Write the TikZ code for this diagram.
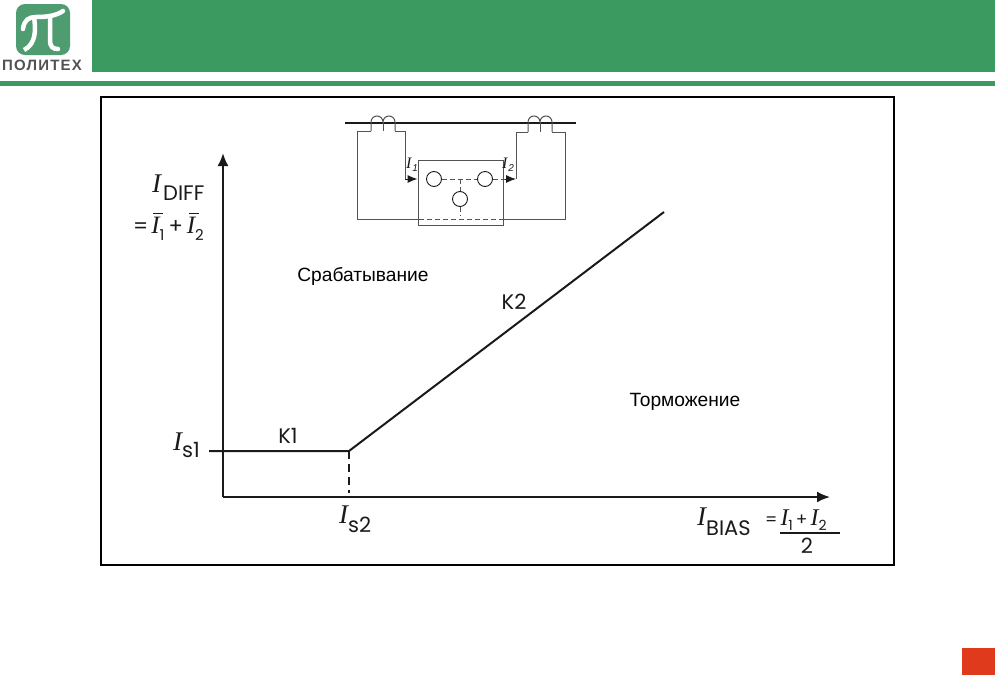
\documentclass[tikz,border=0pt]{standalone}
\usepackage{fontspec}
\setmainfont{Liberation Sans}
\newfontfamily\axisfont{Poppins}
\newfontfamily\serifit{Liberation Serif}
\newfontfamily\logofont[LetterSpace=8]{Liberation Sans}
\usetikzlibrary{arrows.meta}
\definecolor{headgreen}{HTML}{3A9A60}
\definecolor{logogreen}{HTML}{4E9C70}
\definecolor{cornerred}{HTML}{DF3A1B}
\definecolor{inkgrey}{HTML}{1A1A1A}
\newcommand{\symI}[1]{{\fontsize{#1}{#1}\selectfont\serifit\itshape I}}
\newcommand{\symIbar}{\rlap{\hspace{2pt}\rule[19pt]{10pt}{1.5pt}}\symI{25}}
\tikzset{
  axisline/.style={draw=inkgrey, line width=2pt},
  axisarrow/.style={axisline, -{Latex[length=13pt,width=11pt]}},
  curveline/.style={draw=inkgrey, line width=2pt},
  wireline/.style={draw=inkgrey!75, line width=1pt},
  wirearrow/.style={draw=inkgrey, line width=1pt, -{Latex[length=10pt,width=8pt]}},
  relaycircle/.style={circle, draw=inkgrey, line width=0.9pt, fill=white, minimum size=15pt, inner sep=0pt},
  axislabel/.style={font=\axisfont\fontsize{21}{24}\selectfont, text=inkgrey, inner sep=0pt},
  numlabel/.style={font=\axisfont\fontsize{17}{20}\selectfont, text=inkgrey, inner sep=0pt},
  zonelabel/.style={font=\fontsize{19.2}{22}\selectfont, text=black, inner sep=0pt},
  smalllabel/.style={font=\fontsize{16}{16}\selectfont\serifit\itshape, text=inkgrey, inner sep=0pt}
}
\begin{document}
\begin{tikzpicture}[x=1pt, y=-1pt]
  \useasboundingbox (0,0) rectangle (995,675);
  % header
  \fill[headgreen] (92,0) rectangle (995,72);
  \fill[headgreen] (0,81) rectangle (995,86);
  \fill[cornerred] (962,648) rectangle (995,675);
  % logo
  \fill[logogreen, rounded corners=9pt] (16,4) rectangle (70,55);
  \draw[white, line width=4.5pt, line cap=round] (23,29) .. controls (24,20) and (29,17) .. (36,17) .. controls (46,17) and (56,16) .. (63,11);
  \draw[white, line width=4.5pt] (34,17) .. controls (36,30) and (36,44) .. (24,50);
  \draw[white, line width=4.5pt, line cap=round] (50,16) -- (50,40) .. controls (50,47) and (53,49) .. (58,49);
  \node[font=\logofont\bfseries\fontsize{15}{16}\selectfont, text=black!68, inner sep=0pt] (logotext) at (42,65) {ПОЛИТЕХ};
  % frame
  \draw[black, line width=2pt] (101,97) rectangle (894,565);
  % axes
  \coordinate (origin) at (223,497);
  \coordinate (ytop) at (223,153);
  \coordinate (xend) at (830,497);
  \draw[axisarrow] (origin) -- (ytop);
  \draw[axisarrow] (origin) -- (xend);
  % characteristic
  \coordinate (start) at (209,451);
  \coordinate (knee) at (349,451);
  \coordinate (kneedown) at (349,493);
  \coordinate (kend) at (664,212);
  \draw[curveline] (start) -- (knee) -- (kend);
  \draw[axisline, dash pattern=on 8pt off 5pt] (knee) -- (kneedown);
  % labels
  \node[axislabel] (labelk1) at (288,436) {K1};
  \node[axislabel] (labelk2) at (514,302) {K2};
  \node[zonelabel] (zonetrip) at (363,276) {Срабатывание};
  \node[zonelabel] (zonehold) at (685,402) {Торможение};
  \node[axislabel, anchor=base west] (labelis1) at (173,450) {\symI{27}\raisebox{-7pt}{s1}};
  \node[axislabel, anchor=base west] (labelis2) at (339,523) {\symI{27}\raisebox{-9pt}{s2}};
  \node[axislabel, anchor=base west] (labeldiff) at (152,192) {\symI{27}\raisebox{-8pt}{\hspace{2pt}DIFF}};
  \node[axislabel, anchor=base west] (labelsum) at (133,233) {=\hspace{3pt}\symIbar\raisebox{-7pt}{\fontsize{15}{15}\selectfont 1}\hspace{4pt}+\hspace{4pt}\symIbar\raisebox{-7pt}{\fontsize{15}{15}\selectfont 2}};
  \node[axislabel, anchor=base west] (labelbias) at (697,525) {\symI{27}\raisebox{-10pt}{BIAS}};
  \node[numlabel, anchor=base west] (labelnum) at (765,525) {=\hspace{3pt}\symI{24}\raisebox{-5pt}{\fontsize{14}{14}\selectfont 1}\hspace{3pt}+\hspace{3pt}\symI{24}\raisebox{-5pt}{\fontsize{14}{14}\selectfont 2}};
  \coordinate (barleft) at (780,533);
  \coordinate (barright) at (840,533);
  \draw[axisline] (barleft) -- (barright);
  \node[axislabel] (labeltwo) at (807,546) {2};
  % inset
  \coordinate (busleft) at (345,123);
  \coordinate (busright) at (576,123);
  \draw[draw=inkgrey, line width=1.8pt] (busleft) -- (busright);
  \node[draw=inkgrey!75, line width=1pt, minimum width=85pt, minimum height=65pt, inner sep=0pt] (relaybox) at (460.5,192.5) {};
  \node[relaycircle] (relayleft) at (434,179) {};
  \node[relaycircle] (relayright) at (485,179) {};
  \node[relaycircle] (relaymid) at (460,199) {};
  \coordinate (junction) at (460,179);
  \coordinate (midlow) at (460,216);
  \draw[wireline] (371,131) -- (371,122) arc (180:0:6pt) arc (180:0:6pt) -- (395,131);
  \draw[wireline] (383,122) -- (383,131);
  \draw[wireline] (528,132) -- (528,122) arc (180:0:6pt) arc (180:0:6pt) -- (552,132);
  \draw[wireline] (540,122) -- (540,132);
  \coordinate (wireL) at (405,179);
  \coordinate (wireR) at (516,179);
  \coordinate (arrowR) at (505,179);
  \draw[wireline] (371,131) -- (357,131) -- (357,219) -- (419,219);
  \draw[wireline] (395,131) -- (405,131) -- (wireL);
  \draw[wireline] (528,132) -- (516,132) -- (wireR);
  \draw[wireline] (552,132) -- (565,132) -- (565,219) -- (503,219);
  \draw[wireline, dash pattern=on 5pt off 3pt] (419,219) -- (503,219);
  \draw[wirearrow] (wireL) -- (relaybox.west |- wireL);
  \draw[wireline, dash pattern=on 5pt off 3pt] (relayleft) -- (relayright);
  \draw[wireline, dash pattern=on 5pt off 3pt] (relayright) -- (arrowR);
  \draw[wirearrow] (arrowR) -- (wireR);
  \draw[wireline, dash pattern=on 5pt off 3pt] (junction) -- (relaymid);
  \draw[wireline, dash pattern=on 5pt off 3pt] (relaymid) -- (midlow);
  \node[smalllabel] (labeli1) at (412,165) {I\raisebox{-3pt}{\fontsize{10}{10}\selectfont\rmfamily\hspace{1pt}1}};
  \node[smalllabel] (labeli2) at (508,165) {I\raisebox{-3pt}{\fontsize{10}{10}\selectfont\rmfamily\hspace{1pt}2}};
\end{tikzpicture}
\end{document}
